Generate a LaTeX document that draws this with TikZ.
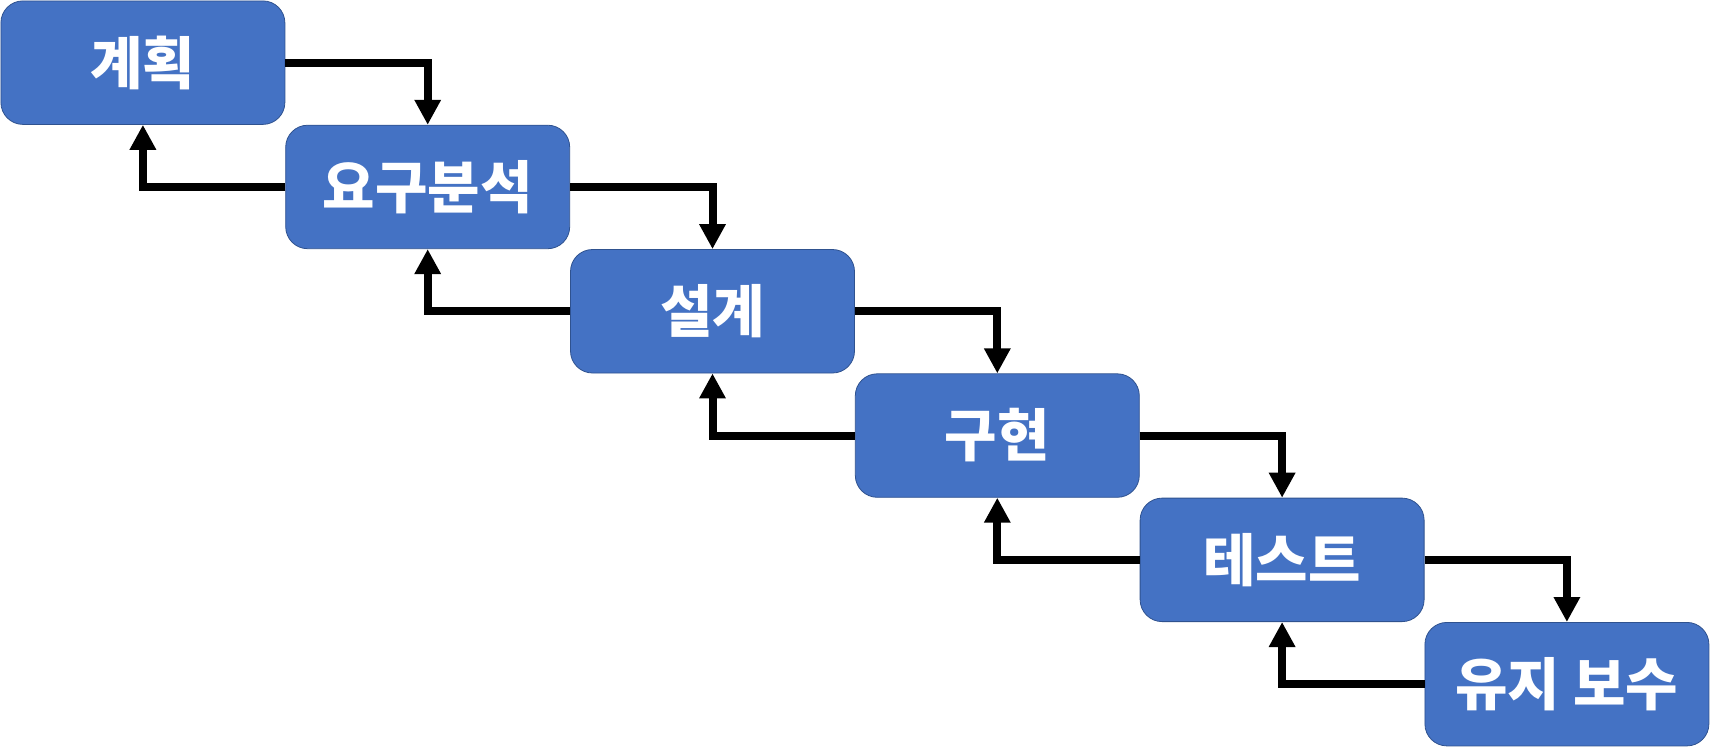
\documentclass[tikz,border=0pt]{standalone}
\usepackage{fontspec}
\newfontfamily\krfont{Noto Sans CJK KR}
\usepackage{tikz}
\usetikzlibrary{arrows.meta,positioning}
\definecolor{stagefill}{HTML}{4472C4}
\definecolor{stageline}{HTML}{2F528F}
\tikzset{
  stage/.style={draw=stageline, line width=0.8pt, rounded corners=22pt, fill=stagefill,
                minimum width=284pt, minimum height=123.5pt, inner sep=0pt,
                font=\krfont\bfseries\fontsize{57}{64}\selectfont\color{white}, align=center},
  flow/.style={-{Triangle[length=25pt,width=25pt]}, line width=8pt, draw=black}
}

\begin{document}
\begin{tikzpicture}
  \useasboundingbox (0,0) rectangle (1712pt,-748pt);
  % waterfall stages
  \node[stage, anchor=north west] (plan) at (0.5pt,-0.5pt) {계획};
  \node[stage, below right=0pt and 0pt of plan] (req) {요구분석};
  \node[stage, below right=0pt and 0pt of req] (design) {설계};
  \node[stage, below right=0pt and 0pt of design] (impl) {구현};
  \node[stage, below right=0pt and 0pt of impl] (test) {테스트};
  \node[stage, below right=0pt and 0pt of test] (maint) {유지 보수};

  % forward flow
  \draw[flow] (plan.east) -| (req.north);
  \draw[flow] (req.east) -| (design.north);
  \draw[flow] (design.east) -| (impl.north);
  \draw[flow] (impl.east) -| (test.north);
  \draw[flow] (test.east) -| (maint.north);

  % feedback
  \draw[flow] (req.west) -| (plan.south);
  \draw[flow] (design.west) -| (req.south);
  \draw[flow] (impl.west) -| (design.south);
  \draw[flow] (test.west) -| (impl.south);
  \draw[flow] (maint.west) -| (test.south);
\end{tikzpicture}
\end{document}
